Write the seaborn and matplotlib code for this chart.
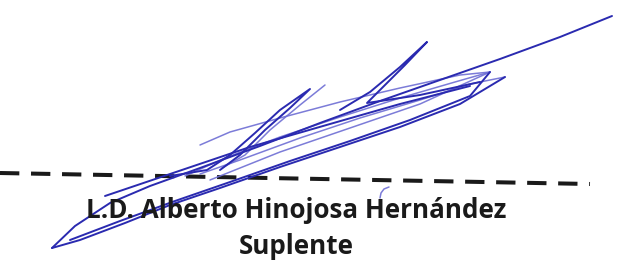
import numpy as np
import pandas as pd
import matplotlib
matplotlib.use("Agg")
import matplotlib.pyplot as plt
import seaborn as sns

# ---- data (pixel coordinates of the ink strokes) ----
main_x = [612, 560, 500, 440, 380, 320, 260, 200, 150, 110, 75, 52]
main_y = [16, 37, 59, 80, 101, 123, 146, 168, 186, 203, 226, 248]

lower_x = [52, 80, 125, 170, 220, 280, 340, 400, 460, 505]
lower_y = [248, 240, 223, 205, 188, 167, 147, 127, 104, 77]

lower2_x = [70, 120, 175, 230, 290, 350, 410, 470, 490]
lower2_y = [240, 221, 201, 182, 161, 141, 120, 96, 72]

ret_x = [505, 470, 420, 360, 300, 240, 200]
ret_y = [77, 84, 100, 118, 138, 160, 174]

ret2_x = [490, 455, 400, 340, 280, 225, 185]
ret2_y = [72, 82, 98, 117, 137, 158, 176]

loop_x = [210, 280, 350, 420, 490, 460, 400, 340, 280, 230, 200]
loop_y = [180, 152, 128, 104, 72, 75, 88, 102, 118, 132, 145]

v1_x = [170, 207, 230, 255, 280, 310, 290, 265, 240, 220]
v1_y = [176, 170, 155, 133, 110, 89, 108, 130, 155, 170]

v1b_x = [325, 300, 270, 245, 222]
v1b_y = [85, 105, 130, 155, 168]

v2_x = [340, 370, 400, 427, 405, 385, 367, 420, 480]
v2_y = [110, 92, 67, 42, 65, 85, 103, 95, 82]

upper_x = [105, 173, 250, 330, 400, 470]
upper_y = [196, 173, 147, 124, 104, 86]

hook_x = [389, 384, 381, 380]
hook_y = [187, 189, 193, 198]

dash_x = [0, 590]
dash_y = [173, 184]

name_text = "L.D. Alberto Hinojosa Hernández"
role_text = "Suplente"

dark = ["main", "lower", "v1", "v2", "upper", "lower2"]
light = ["ret", "loop", "v1b", "ret2", "hook"]

strokes = {
    "main": (main_x, main_y), "lower": (lower_x, lower_y), "lower2": (lower2_x, lower2_y),
    "ret": (ret_x, ret_y), "ret2": (ret2_x, ret2_y),
    "loop": (loop_x, loop_y), "v1": (v1_x, v1_y), "v1b": (v1b_x, v1b_y),
    "v2": (v2_x, v2_y), "upper": (upper_x, upper_y), "hook": (hook_x, hook_y),
}
rows = []
for name, (xs, ys) in strokes.items():
    for i, (x, y) in enumerate(zip(xs, ys)):
        rows.append({"stroke": name, "order": i, "x": x, "y": y})
df = pd.DataFrame(rows)

sns.set_theme(style="white")
plt.rcParams["font.family"] = ["Open Sans", "DejaVu Sans"]

fig = plt.figure(figsize=(6.21, 2.66), dpi=100)
ax = fig.add_axes([0, 0, 1, 1])
ax.set_xlim(0, 621)
ax.set_ylim(266, 0)
ax.axis("off")

dash_df = pd.DataFrame({"x": dash_x, "y": dash_y})
sns.lineplot(data=dash_df, x="x", y="y", ax=ax, color="#1a1a1a", sort=False,
             estimator=None, linewidth=2.9, linestyle=(0, (4.8, 2.9)))

ax.text(296, 211, name_text, ha="center", va="center", fontsize=18.7,
        fontweight="bold", color="#1a1a1a")
ax.text(296, 246, role_text, ha="center", va="center", fontsize=18.7,
        fontweight="bold", color="#1a1a1a")

sns.lineplot(data=df[df.stroke.isin(light)], x="x", y="y", units="stroke",
             estimator=None, sort=False, ax=ax, color="#6e6ed4", linewidth=1.1, alpha=0.9)
sns.lineplot(data=df[df.stroke.isin(dark)], x="x", y="y", units="stroke",
             estimator=None, sort=False, ax=ax, color="#2a2ab0", linewidth=1.4)

fig.savefig("out.png", dpi=100)
